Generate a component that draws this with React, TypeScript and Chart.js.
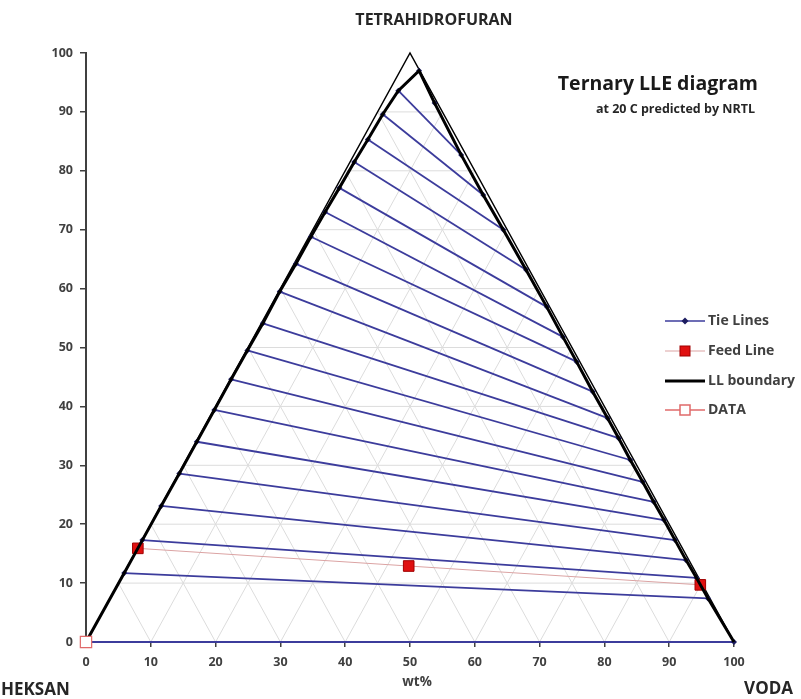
import React, { useEffect, useRef } from 'react';
import { Chart, registerables } from 'chart.js';

Chart.register(...registerables);

// Tie line end points (wt%): left = hexane-rich phase, right = water-rich phase
const tieLeftX = [0, 5.9, 8.7, 11.6, 14.4, 17.1, 19.8, 22.4, 24.9, 27.3, 29.9, 32.4, 34.7, 36.9, 39.1, 41.4, 43.5, 45.8, 48.2, 51.4];
const tieLeftY = [0, 11.7, 17.3, 23.1, 28.6, 34.0, 39.4, 44.6, 49.5, 54.1, 59.5, 64.2, 68.8, 73.0, 77.1, 81.5, 85.3, 89.6, 93.6, 97.0];
const tieRightX = [100, 96.0, 94.2, 92.6, 90.9, 89.2, 87.6, 85.9, 84.0, 82.2, 80.5, 78.2, 75.7, 73.6, 71.1, 67.9, 64.4, 61.3, 57.9, 53.8];
const tieRightY = [0, 7.4, 10.9, 13.9, 17.3, 20.7, 23.8, 27.2, 30.9, 34.6, 38.0, 42.5, 47.6, 51.8, 56.9, 63.2, 70.0, 75.9, 82.7, 91.5];

// Feed line
const feedX = [8.0, 49.8, 94.8];
const feedY = [15.9, 12.9, 9.7];

// Data point
const dataX = [0];
const dataY = [0];

// Triangle corners
const triX = [0, 50, 100];
const triY = [0, 100, 0];

// Ternary grid levels
const gridLevels = [10, 20, 30, 40, 50, 60, 70, 80, 90];

const legendItems = ['Tie Lines', 'Feed Line', 'LL boundary', 'DATA'];

const TIE_COLOR = '#3c3c9c';
const TIE_MARK = '#1c1c60';
const FEED_LINE = '#dba3a3';
const FEED_FILL = '#e01010';
const FEED_BORDER = '#a00000';
const DATA_BORDER = '#e06a6a';
const GRID = '#dcdcdc';
const TEXT = '#404040';
const FONT = '"Open Sans", "DejaVu Sans", sans-serif';

const pts = (xs: number[], ys: number[]) => xs.map((x, i) => ({ x, y: ys[i] }));

const legendPlugin = {
  id: 'customLegend',
  afterDraw(chart: any) {
    const ctx = chart.ctx as CanvasRenderingContext2D;
    const x0 = 665, x1 = 705, xm = 685;
    const ys = [321, 351, 381, 410];
    ctx.save();
    ys.forEach((y, i) => {
      ctx.lineCap = 'butt';
      if (i === 0) {
        ctx.strokeStyle = TIE_COLOR; ctx.lineWidth = 1.5;
        ctx.beginPath(); ctx.moveTo(x0, y); ctx.lineTo(x1, y); ctx.stroke();
        ctx.fillStyle = TIE_MARK;
        ctx.beginPath(); ctx.moveTo(xm, y - 3.5); ctx.lineTo(xm + 3.5, y); ctx.lineTo(xm, y + 3.5); ctx.lineTo(xm - 3.5, y); ctx.closePath(); ctx.fill();
      } else if (i === 1) {
        ctx.strokeStyle = FEED_LINE; ctx.lineWidth = 1;
        ctx.beginPath(); ctx.moveTo(x0, y); ctx.lineTo(x1, y); ctx.stroke();
        ctx.fillStyle = FEED_FILL; ctx.strokeStyle = FEED_BORDER; ctx.lineWidth = 1;
        ctx.fillRect(xm - 5, y - 5, 10, 10); ctx.strokeRect(xm - 5, y - 5, 10, 10);
      } else if (i === 2) {
        ctx.strokeStyle = '#000'; ctx.lineWidth = 3;
        ctx.beginPath(); ctx.moveTo(x0, y); ctx.lineTo(x1, y); ctx.stroke();
      } else {
        ctx.strokeStyle = DATA_BORDER; ctx.lineWidth = 1.5;
        ctx.beginPath(); ctx.moveTo(x0, y); ctx.lineTo(x1, y); ctx.stroke();
        ctx.fillStyle = '#fff';
        ctx.fillRect(xm - 5, y - 5, 10, 10); ctx.strokeRect(xm - 5, y - 5, 10, 10);
      }
      ctx.fillStyle = TEXT;
      ctx.font = `bold 14px ${FONT}`;
      ctx.textBaseline = 'middle';
      ctx.textAlign = 'left';
      ctx.fillText(legendItems[i], 708, y);
    });
    ctx.restore();
  },
};

const Label = ({ x, y, text, size, align, color }: { x: number; y: number; text: string; size: number; align: 'left' | 'center' | 'right'; color?: string }) => {
  const tx = align === 'left' ? '0' : align === 'center' ? '-50%' : '-100%';
  return (
    <div
      style={{
        position: 'absolute', left: x, top: y, transform: `translate(${tx}, -50%)`,
        fontFamily: FONT, fontWeight: 700, fontSize: size, lineHeight: 1, whiteSpace: 'nowrap',
        color: color || '#262626',
      }}
    >
      {text}
    </div>
  );
};

export default function App() {
  const ref = useRef<HTMLCanvasElement>(null);

  useEffect(() => {
    if (!ref.current) return;
    const datasets: any[] = [];
    const line = (data: any[], extra: any) => ({
      data, showLine: true, fill: false, tension: 0, clip: false, pointRadius: 0, pointHoverRadius: 0, ...extra,
    });

    gridLevels.forEach((k) => {
      const g = { borderColor: GRID, borderWidth: 1, order: 100 };
      datasets.push(line([{ x: k / 2, y: k }, { x: 100 - k / 2, y: k }], g));
      datasets.push(line([{ x: k, y: 0 }, { x: k + (100 - k) / 2, y: 100 - k }], g));
      datasets.push(line([{ x: k, y: 0 }, { x: k / 2, y: k }], g));
    });

    datasets.push(line([...pts(triX, triY)], { borderColor: '#000', borderWidth: 1.5, order: 90 }));

    tieLeftX.forEach((_, i) => {
      datasets.push(line([{ x: tieLeftX[i], y: tieLeftY[i] }, { x: tieRightX[i], y: tieRightY[i] }], {
        borderColor: TIE_COLOR, borderWidth: 1.8, pointStyle: 'rectRot', pointRadius: 3,
        pointBackgroundColor: TIE_MARK, pointBorderColor: TIE_MARK, pointBorderWidth: 0, order: 60,
      }));
    });

    datasets.push(line(pts(feedX, feedY), {
      borderColor: FEED_LINE, borderWidth: 1, pointStyle: 'rect', pointRadius: 7.5,
      pointBackgroundColor: FEED_FILL, pointBorderColor: FEED_BORDER, pointBorderWidth: 1, order: 50,
    }));

    const boundary = [...pts(tieLeftX, tieLeftY), ...pts(tieRightX, tieRightY).reverse()];
    datasets.push(line(boundary, { borderColor: '#000', borderWidth: 3, order: 40 }));

    datasets.push(line(pts(dataX, dataY), {
      borderColor: DATA_BORDER, borderWidth: 1.5, pointStyle: 'rect', pointRadius: 8,
      pointBackgroundColor: '#fff', pointBorderColor: DATA_BORDER, pointBorderWidth: 1.2, order: 30,
    }));

    const tickFont = { family: FONT, weight: 'bold' as const, size: 12.5 };

    const chart = new Chart(ref.current, {
      type: 'scatter',
      data: { datasets },
      options: {
        responsive: false,
        animation: false,
        events: [],
        layout: { padding: { left: 0, right: 67, top: 53, bottom: 0 } },
        plugins: { legend: { display: false }, tooltip: { enabled: false } },
        scales: {
          x: {
            type: 'linear', min: 0, max: 100,
            ticks: { stepSize: 10, color: TEXT, font: tickFont, padding: 8, maxRotation: 0, autoSkip: false },
            grid: { drawOnChartArea: false, drawTicks: true, tickLength: 5, color: '#404040', lineWidth: 1.5 },
            border: { display: true, color: '#404040', width: 2 },
            afterFit: (s: any) => { s.height = 57; },
          },
          y: {
            type: 'linear', min: 0, max: 100,
            ticks: { stepSize: 10, color: TEXT, font: tickFont, padding: 7 },
            grid: { drawOnChartArea: false, drawTicks: true, tickLength: 6, color: '#404040', lineWidth: 1.5 },
            border: { display: true, color: '#404040', width: 2 },
            afterFit: (s: any) => { s.width = 86; },
          },
        },
      },
      plugins: [legendPlugin],
    });
    return () => chart.destroy();
  }, []);

  return (
    <div style={{ position: 'absolute', left: 0, top: 0, width: 801, height: 699, background: '#fff', overflow: 'hidden' }}>
      <canvas ref={ref} width={801} height={699} style={{ position: 'absolute', left: 0, top: 0 }} />
      <Label x={434} y={19} text="TETRAHIDROFURAN" size={16} align="center" />
      <Label x={1} y={688} text="HEKSAN" size={17} align="left" />
      <Label x={793} y={687} text="VODA" size={17} align="right" />
      <Label x={417} y={682} text="wt%" size={13.5} align="center" color={TEXT} />
      <Label x={758} y={83} text="Ternary LLE diagram" size={19.5} align="right" color="#1a1a1a" />
      <Label x={755} y={109} text="at 20 C predicted by NRTL" size={12.5} align="right" />
    </div>
  );
}
